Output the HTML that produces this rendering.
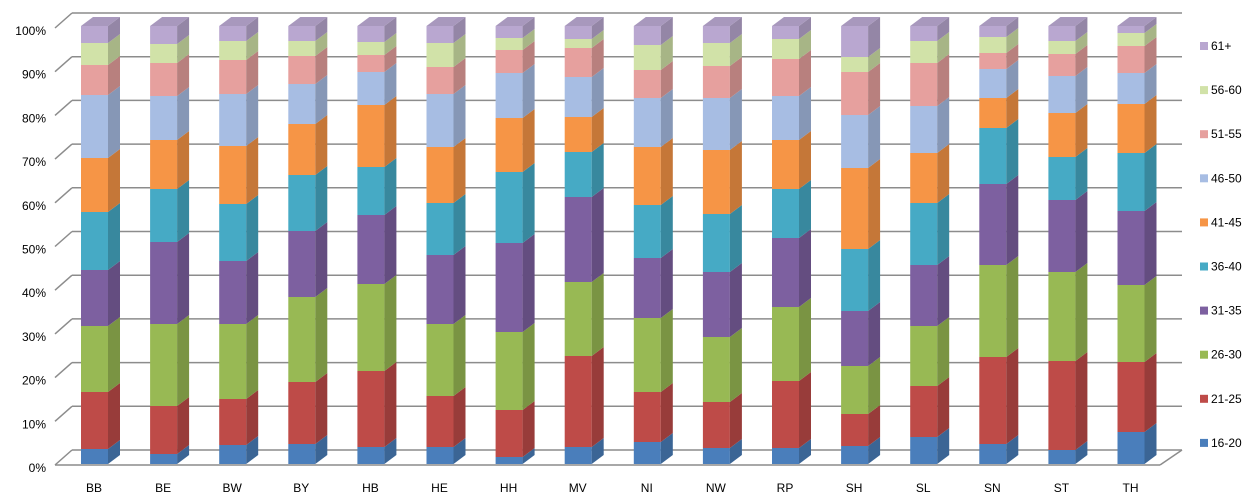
<!DOCTYPE html>
<html><head><meta charset="utf-8"><style>
html,body{margin:0;padding:0;background:#fff;}
svg{display:block;font-family:"Liberation Sans","DejaVu Sans",sans-serif;}
</style></head><body>
<svg id="s" width="1252" height="499" xmlns="http://www.w3.org/2000/svg"></svg>
<script>
const s=document.getElementById('s');
let h='';
for(let i=0;i<=10;i++){
  const yb=450-i*43.7;
  h+=`<line x1="72" y1="${yb}" x2="1182" y2="${yb}" stroke="#8c8c8c" stroke-width="1.5"/>`;
  h+=`<line x1="55" y1="${yb+15}" x2="72" y2="${yb}" stroke="#8c8c8c" stroke-width="1.5"/>`;
  h+=`<text x="46" y="${yb+22}" font-size="12" text-anchor="end" fill="#000">${i*10}%</text>`;
}
h+=`<line x1="55" y1="465" x2="1160" y2="465" stroke="#8c8c8c" stroke-width="1.5"/>`;
h+=`<line x1="1160" y1="465" x2="1182" y2="450" stroke="#8c8c8c" stroke-width="1.5"/>`;
const col=[["#4a7ebb","#3b6595","#6b95c8"],["#be4b48","#983c3a","#cc6f6d"],["#98b954","#7a9443","#adc777"],["#7d60a0","#644d80","#9680b3"],["#46aac5","#38889e","#6bbbd1"],["#f69546","#c57738","#f8ab6b"],["#a7bde3","#8697b6","#bccbe9"],["#e6a09e","#b8807e","#ebb3b1"],["#d1e2a8","#a7b586","#dbe8bb"],["#b9a7d0","#9486a6","#a898bd"]];
const names=["BB","BE","BW","BY","HB","HE","HH","MV","NI","NW","RP","SH","SL","SN","ST","TH"];
const data=[
[449,392,326,270,212,158,95,65,43,26],
[454,406,324,242,189,140,96,63,44,26],
[445,399,324,261,204,146,94,60,41,26],
[444,382,297,231,175,124,84,56,41,26],
[447,371,284,215,167,105,72,55,42,26],
[447,396,324,255,203,147,94,67,43,26],
[457,410,332,243,172,118,73,50,38,26],
[447,356,282,197,152,117,77,48,39,26],
[442,392,318,258,205,147,98,70,45,26],
[448,402,337,272,214,150,98,66,43,26],
[448,381,307,238,189,140,96,59,39,26],
[446,414,366,311,249,168,115,72,57,26],
[437,386,326,265,203,153,106,63,41,26],
[444,357,265,184,128,98,69,53,37,26],
[450,361,272,200,157,113,76,54,41,26],
[432,362,285,211,153,104,73,46,33,26]];
const W=27,dx=12,dy=9;
data.forEach((d,b)=>{
  const x=81+b*69.1;
  let yb=464;
  d.forEach((yt,k)=>{
    h+=`<rect x="${x}" y="${yt}" width="${W}" height="${yb-yt}" fill="${col[k][0]}"/>`;
    h+=`<polygon points="${x+W},${yb} ${x+W+dx},${yb-dy} ${x+W+dx},${yt-dy} ${x+W},${yt}" fill="${col[k][1]}"/>`;
    yb=yt;
  });
  h+=`<polygon points="${x},26 ${x+W},26 ${x+W+dx},${26-dy} ${x+dx},${26-dy}" fill="${col[9][2]}"/>`;
  h+=`<text x="${x+13}" y="492" font-size="12" text-anchor="middle">${names[b]}</text>`;
});
const lg=["61+","56-60","51-55","46-50","41-45","36-40","31-35","26-30","21-25","16-20"];
lg.forEach((t,i)=>{
  const y=46+i*44.1;
  h+=`<rect x="1200" y="${y-4}" width="8" height="8" fill="${col[9-i][0]}"/>`;
  h+=`<text x="1211" y="${y+4}" font-size="12">${t}</text>`;
});
s.innerHTML=h;
</script>
</body></html>
